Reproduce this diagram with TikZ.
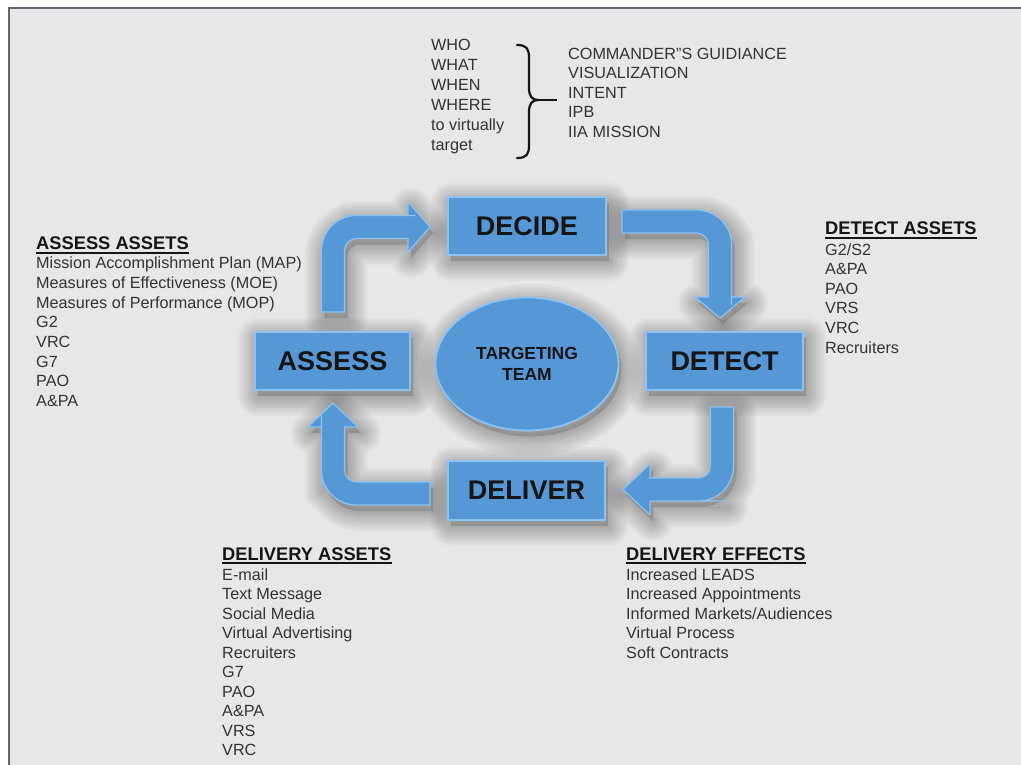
\documentclass[tikz,border=0pt]{standalone}
\usepackage{fontspec}
\setmainfont{Liberation Sans}
\usetikzlibrary{shapes.geometric}
\definecolor{bgc}{HTML}{E7E7E9}
\definecolor{framec}{HTML}{6A6270}
\definecolor{blu}{HTML}{5698D6}
\definecolor{blulight}{HTML}{8CC2EE}
\definecolor{txt}{HTML}{333333}
\definecolor{hd}{HTML}{151515}
\newcommand\shadowof[1]{%
  \foreach \w in {40,36,32,28,24,20,16,12,8,4}{\draw[draw=black, draw opacity=0.028, line width=\w, line join=round, shift={(3,6)}] #1;}%
  \fill[black, fill opacity=0.15, shift={(3,6)}] #1;}
\def\pathAone{(344.5,312) -- (321.5,312) -- (321.5,300) [rounded corners=35pt] -- (321.5,215.5) -- (380,215.5) [sharp corners] -- (408,215.5) -- (408,202) -- (430,227) -- (408,252) -- (408,238.5) -- (385,238.5) [rounded corners=12pt] -- (344.5,238.5) -- (344.5,290) [sharp corners] -- cycle}
\def\pathAtwo{(622,210) -- (650,210) [rounded corners=35pt] -- (731.5,210) -- (731.5,270) [sharp corners] -- (731.5,297) -- (745,297) -- (720,318) -- (695,297) -- (708.5,297) -- (708.5,270) [rounded corners=12pt] -- (708.5,233) -- (650,233) [sharp corners] -- (622,233) -- cycle}
\def\pathAthree{(710.5,407) -- (733.5,407) -- (733.5,430) [rounded corners=35pt] -- (733.5,501) -- (690,501) [sharp corners] -- (650,501) -- (650,515) -- (623,489.5) -- (650,464) -- (650,478) -- (690,478) [rounded corners=12pt] -- (710.5,478) -- (710.5,440) [sharp corners] -- cycle}
\def\pathAfour{(430,505) -- (400,505) [rounded corners=35pt] -- (321.5,505) -- (321.5,450) [sharp corners] -- (321.5,427) -- (308,427) -- (333,403) -- (358,427) -- (344.5,427) -- (344.5,450) [rounded corners=12pt] -- (344.5,482) -- (400,482) [sharp corners] -- (430,482) -- cycle}
\def\rDecide{(448,197) rectangle (606,255)}
\def\rAssess{(255,332) rectangle (410,390)}
\def\rDetect{(646,332) rectangle (803,390)}
\def\rDeliver{(448,461) rectangle (605,520)}
\def\eTeam{(527,364) ellipse [x radius=91.5, y radius=66.5]}
\begin{document}
\begin{tikzpicture}[x=1pt,y=-1pt,
  box/.style={draw=blulight, line width=1.5pt, fill=blu, inner sep=0pt, minimum height=58pt, font=\fontsize{27}{30}\selectfont\bfseries, text=hd},
  blockarrow/.style={fill=blu, draw=blulight, line width=1.2pt, line join=round},
  item/.style={anchor=base west, inner sep=0pt, font=\fontsize{16.2}{19.6}\selectfont, text=txt},
  head/.style={anchor=base west, inner sep=0pt, font=\fontsize{18.3}{22}\selectfont\bfseries, text=hd},
  uline/.style={line width=1.8pt, draw=hd}]
\useasboundingbox (0,0) rectangle (1021,765);
\fill[white] (0,0) rectangle (1021,765);
\fill[bgc] (9,8) rectangle (1021,765);
\draw[framec, line width=2.5pt] (9,765) -- (9,8) -- (1021,8);
% shadows
\shadowof{\pathAone}
\shadowof{\pathAtwo}
\shadowof{\pathAthree}
\shadowof{\pathAfour}
\shadowof{\rDecide}
\shadowof{\rAssess}
\shadowof{\rDetect}
\shadowof{\rDeliver}
\shadowof{\eTeam}
% block arrows
\path[blockarrow] \pathAone;
\path[blockarrow] \pathAtwo;
\path[blockarrow] \pathAthree;
\path[blockarrow] \pathAfour;
% boxes
\node[box, minimum width=158pt] (decide) at (527,226) {DECIDE};
\node[box, minimum width=155pt] (assess) at (332.5,361) {ASSESS};
\node[box, minimum width=157pt] (detect) at (724.5,361) {DETECT};
\node[box, minimum width=157pt, minimum height=59pt] (deliver) at (526.5,490.5) {DELIVER};
\node[ellipse, draw=blulight, line width=1.8pt, fill=blu, minimum width=183pt, minimum height=133pt, inner sep=0pt, align=center, text=hd, font=\fontsize{17.5}{21}\selectfont\bfseries] (team) at (527,364) {TARGETING\\TEAM};
% top block
\foreach \t [count=\i from 0] in {WHO, WHAT, WHEN, WHERE, to virtually, target}
  \node[item] (w\i) at (431,{50.7+19.9*\i}) {\t};
\draw[line width=2.2pt, hd, line cap=round] (517,45) .. controls (527,45) and (529,49) .. (529,58) -- (529,88) .. controls (529,96) and (532,100) .. (538,100) .. controls (532,100) and (529,104) .. (529,112) -- (529,145) .. controls (529,154) and (527,158) .. (517,158);
\draw[line width=2.2pt, hd] (536,100) -- (557,100);
\foreach \t [count=\i from 0] in {COMMANDER"S GUIDIANCE, VISUALIZATION, INTENT, IPB, IIA MISSION}
  \node[item] (c\i) at (568,{59.3+19.5*\i}) {\t};
% assess assets
\node[head] (hA) at (36,250) {ASSESS ASSETS};
\draw[uline] ([yshift=-3.2pt]hA.base west) -- ([yshift=-3.2pt]hA.base east);
\foreach \t [count=\i from 0] in {Mission Accomplishment Plan (MAP), Measures of Effectiveness (MOE), Measures of Performance (MOP), G2, VRC, G7, PAO, A\&PA}
  \node[item] (a\i) at (36,{269+19.6*\i}) {\t};
% detect assets
\node[head] (hD) at (825,234.7) {DETECT ASSETS};
\draw[uline] ([yshift=-3.2pt]hD.base west) -- ([yshift=-3.2pt]hD.base east);
\foreach \t [count=\i from 0] in {{G2/S2}, A\&PA, PAO, VRS, VRC, Recruiters}
  \node[item] (d\i) at (825,{255+19.6*\i}) {\t};
% delivery assets
\node[head] (hL) at (222,560) {DELIVERY ASSETS};
\draw[uline] ([yshift=-3.2pt]hL.base west) -- ([yshift=-3.2pt]hL.base east);
\foreach \t [count=\i from 0] in {E-mail, Text Message, Social Media, Virtual Advertising, Recruiters, G7, PAO, A\&PA, VRS, VRC}
  \node[item] (l\i) at (222,{580+19.5*\i}) {\t};
% delivery effects
\node[head] (hE) at (626,560) {DELIVERY EFFECTS};
\draw[uline] ([yshift=-3.2pt]hE.base west) -- ([yshift=-3.2pt]hE.base east);
\foreach \t [count=\i from 0] in {Increased LEADS, Increased Appointments, {Informed Markets/Audiences}, Virtual Process, Soft Contracts}
  \node[item] (e\i) at (626,{580+19.5*\i}) {\t};
\end{tikzpicture}
\end{document}
